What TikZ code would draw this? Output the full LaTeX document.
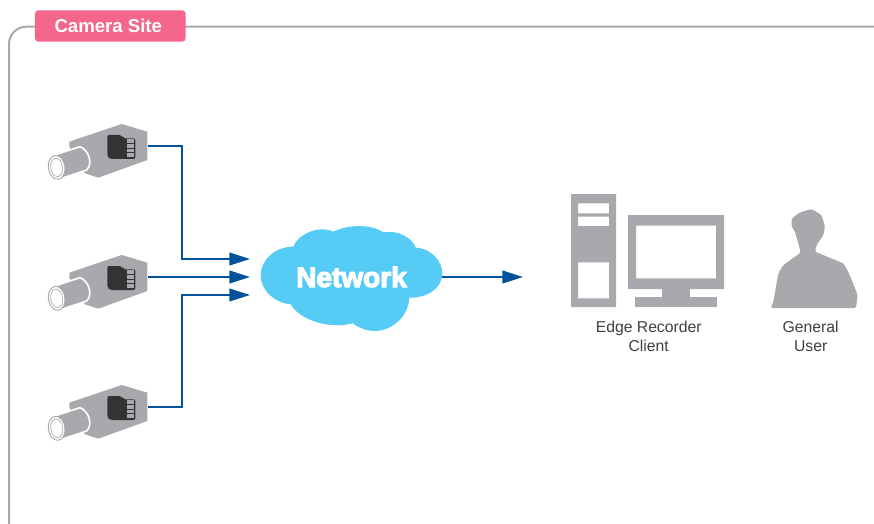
\documentclass[tikz,border=0pt]{standalone}
\usepackage{fontspec}
\setmainfont{Liberation Sans}
\newfontfamily\netfont[FakeBold=4]{Liberation Sans Bold}
\usetikzlibrary{arrows.meta}
\definecolor{framegray}{HTML}{A7A9AC}
\definecolor{tagpink}{HTML}{F4668B}
\definecolor{linkblue}{HTML}{00539B}
\definecolor{cloudblue}{HTML}{55CBF6}
\definecolor{carddark}{HTML}{333333}
\tikzset{
  link/.style={draw=linkblue,line width=1.5pt,-{Triangle[length=15.5pt,width=9.5pt]}},
  zoomed/.style={x=0.25pt,y=-0.25pt},
  caption/.style={align=center,font=\fontsize{11.8pt}{14.2pt}\selectfont,text=black!75,inner sep=0pt},
  camera/.pic={
    \begin{scope}[shift={(30,110)},zoomed]
      \fill[framegray] (118,95) -- (275,42) -- (352,65) -- (352,150) -- (205,203) -- (165,190) -- (118,110) -- cycle;
      \path[fill=framegray,draw=white,line width=1.2pt] (62,139) -- (150,110) .. controls (176,120) and (190,160) .. (170,180) -- (88,207) -- cycle;
      \path[fill=white,draw=framegray,line width=.7pt] (80,172) ellipse [x radius=25,y radius=36,rotate=8];
      \path[fill=white,draw=framegray,line width=.5pt] (80,172) ellipse [x radius=18,y radius=28,rotate=8];
      \fill[carddark,rounded corners=1.5pt] (232,75) -- (275,75) -- (280,85) -- (316,85) -- (316,147) -- (240,147) -- (232,140) -- cycle;
      \foreach \ya in {88,103,117,130}
        \fill[framegray] (292,\ya) rectangle (312,\ya+10);
    \end{scope}
  }
}
\begin{document}
\begin{tikzpicture}[x=0.75pt,y=-0.75pt]
\clip (0,0) rectangle (874,524);
\fill[white] (0,0) rectangle (874,524);
% frame
\draw[framegray,line width=1.5pt,rounded corners=13pt] (9,540) -- (9,26.7) -- (890,26.7);
\node[fill=tagpink,rounded corners=2.5pt,minimum width=113pt,minimum height=23.5pt,inner sep=0pt,text=white,font=\bfseries\fontsize{13.95pt}{16pt}\selectfont] (tag) at (110.3,26) {Camera Site\hspace*{3pt}};
% cameras
\pic at (0,0) {camera};
\pic at (0,131) {camera};
\pic at (0,261) {camera};
\coordinate (camA) at (148,146);
\coordinate (camB) at (148,277);
\coordinate (camC) at (148,407);
% cloud
\begin{scope}[shift={(170,215)},zoomed]
  \fill[cloudblue] (370,95) .. controls (385,55) and (450,30) .. (490,50)
    .. controls (530,30) and (600,25) .. (640,52)
    .. controls (680,45) and (725,65) .. (737,98)
    .. controls (785,100) and (817,140) .. (817,175)
    .. controls (817,220) and (770,250) .. (718,248)
    .. controls (715,310) and (660,348) .. (615,348)
    .. controls (590,348) and (565,338) .. (548,325)
    .. controls (470,345) and (385,310) .. (362,268)
    .. controls (310,262) and (272,225) .. (272,180)
    .. controls (272,135) and (315,95) .. (370,95) -- cycle;
\end{scope}
\node[minimum width=136pt,minimum height=78pt,inner sep=0pt,text=white,font=\netfont\fontsize{21pt}{22pt}\selectfont] (net) at (351.5,277) {Network};
% connectors
\coordinate (inA) at (250,259);
\coordinate (inB) at (250,277);
\coordinate (inC) at (250,295);
\coordinate (outA) at (523,277);
\draw[link] (camA) -- (182,146) -- (182,259) -- (inA);
\draw[link] (camB) -- (inB);
\draw[link] (camC) -- (182,407) -- (182,295) -- (inC);
\draw[link] (net.east) -- (outA);
% computer
\begin{scope}[shift={(560,185)},zoomed]
  \fill[framegray,even odd rule] (33,27) rectangle (168,366)
     (54,55) rectangle (147,85) (54,95) rectangle (147,123) (54,232) rectangle (147,340);
  \fill[framegray,even odd rule] (204,90) rectangle (492,312) (228,122) rectangle (468,280);
  \fill[framegray] (305,312) rectangle (390,340);
  \fill[framegray] (225,337) rectangle (470,366);
  \fill[framegray,rounded corners=1.2pt] (695,100) -- (720,82) -- (755,72) -- (785,90) -- (795,125) -- (790,150) -- (770,180) -- (765,200) -- (850,235) -- (865,260) -- (893,330) -- (888,369) -- (632,369) -- (640,350) -- (655,265) -- (670,240) -- (722,203) -- (715,175) -- (705,140) -- (695,125) -- cycle;
\end{scope}
\node[caption] (pc) at (648.7,336) {Edge Recorder\\Client};
\node[caption] (user) at (810.7,336) {General\\User};
\end{tikzpicture}
\end{document}
